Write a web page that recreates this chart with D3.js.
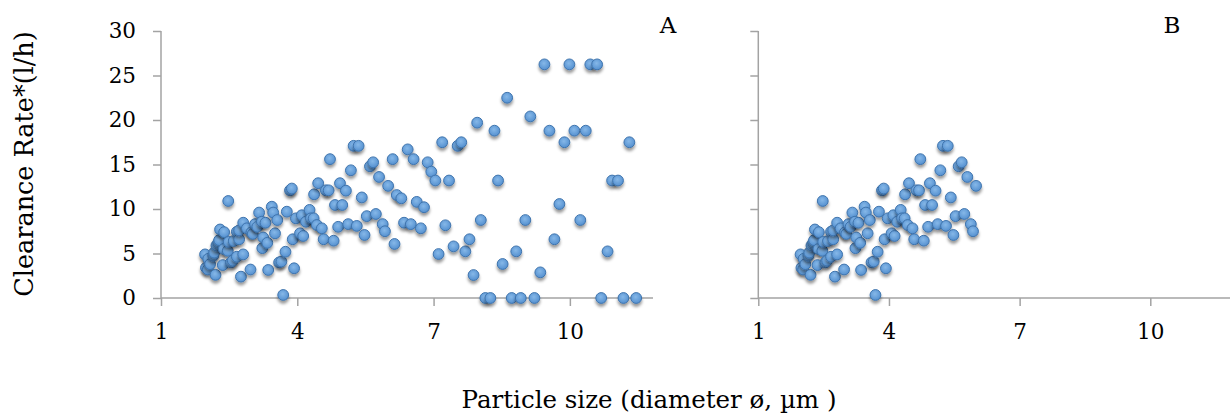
<!DOCTYPE html>
<html>
<head>
<meta charset="utf-8">
<script src="https://cdn.jsdelivr.net/npm/d3@7/dist/d3.min.js"></script>
<style>
  html, body { margin: 0; padding: 0; background: #fff; }
  svg { display: block; }
  text { font-family: "DejaVu Serif", "Liberation Serif", serif; fill: #000; }
</style>
</head>
<body>
<svg id="chart" width="1231" height="417"></svg>
<script>
// Particle size (µm) and clearance rate (l/h) for every measurement
const particleSize = [
  1.97, 1.99, 2.03, 2.04, 2.08, 2.15, 2.17, 2.20, 2.22, 2.26,
  2.28, 2.30, 2.36, 2.39, 2.38, 2.47, 2.49, 2.48, 2.54, 2.58,
  2.60, 2.67, 2.67, 2.72, 2.72, 2.76, 2.81, 2.81, 2.89, 2.97,
  2.99, 3.02, 3.07, 3.12, 3.16, 3.22, 3.23, 3.25, 3.30, 3.34,
  3.36, 3.44, 3.47, 3.51, 3.56, 3.60, 3.65, 3.69, 3.74, 3.77,
  3.90, 3.93, 3.97, 4.06, 4.10, 4.13, 4.19, 4.27, 4.30, 4.36,
  4.43, 4.54, 4.58, 4.80, 4.90, 5.12, 5.31, 5.48, 5.53, 5.73,
  5.88, 5.93, 6.14, 6.35, 6.50, 6.72,
  3.84, 3.88, 4.37, 4.46, 4.63, 4.69, 4.72, 4.94, 5.07, 4.83,
  4.99, 5.18, 5.24, 5.35, 5.42, 5.60, 5.67, 5.80, 6.00, 6.10,
  6.19, 6.29, 6.43, 6.56, 6.63, 6.79, 6.87, 6.95, 7.04, 7.34,
  7.19, 7.53, 7.61, 7.96, 8.34, 8.62, 9.13, 9.44, 9.99, 10.45,
  10.60, 9.55, 10.10, 10.35, 9.88, 11.31, 8.42, 10.93, 11.06, 9.77,
  7.26, 8.04, 9.02, 10.23, 7.11, 7.44, 7.70, 7.79, 7.88, 8.52,
  8.82, 9.35, 9.66, 10.83,
  8.14, 8.25, 8.72, 8.92, 9.22, 10.69, 11.18, 11.46
];
const clearanceRate = [
  4.9, 3.4, 3.2, 4.4, 3.8, 4.75, 5.1, 2.6, 5.9, 6.2,
  6.5, 7.7, 3.7, 7.4, 5.5, 5.3, 6.3, 10.9, 4.0, 4.2,
  6.4, 7.45, 4.64, 6.6, 7.6, 2.4, 4.9, 8.46, 7.83, 3.2,
  7.37, 7.2, 8.3, 8.0, 9.6, 8.57, 5.6, 6.8, 8.46, 6.2,
  3.15, 10.26, 9.6, 7.27, 8.76, 4.0, 4.1, 0.34, 5.2, 9.7,
  6.6, 3.34, 8.95, 7.27, 9.3, 6.97, 8.57, 9.9, 8.95, 8.95,
  8.2, 7.83, 6.6, 6.44, 8.0, 8.3, 8.1, 7.08, 9.2, 9.44,
  8.3, 7.5, 6.07, 8.46, 8.3, 7.83,
  12.1, 12.3, 11.65, 12.9, 12.1, 12.1, 15.6, 12.9, 12.06, 10.45,
  10.45, 14.35, 17.1, 17.1, 11.3, 14.8, 15.25, 13.6, 12.6, 15.6,
  11.57, 11.2, 16.7, 15.6, 10.8, 10.2, 15.25, 14.2, 13.2, 13.2,
  17.5, 17.1, 17.5, 19.7, 18.8, 22.5, 20.4, 26.25, 26.25, 26.25,
  26.25, 18.8, 18.8, 18.8, 17.5, 17.5, 13.2, 13.2, 13.2, 10.56,
  8.17, 8.76, 8.76, 8.76, 4.94, 5.8, 5.24, 6.6, 2.58, 3.82,
  5.24, 2.88, 6.6, 5.24,
  0, 0, 0, 0, 0, 0, 0, 0
];

// Panel B shows only the smaller particles
const panelBMaxSize = 6.05;

const xTicks = [1, 4, 7, 10];
const yTicks = [0, 5, 10, 15, 20, 25, 30];
const xDomain = [1, 11.83];
const yDomain = [0, 30];

const points = particleSize.map((s, i) => ({ size: s, rate: clearanceRate[i] }));
const panels = [
  { label: "A", left: 161, right: 653, labelX: 668, showYLabels: true, data: points },
  { label: "B", left: 758.3, right: 1230, labelX: 1172, showYLabels: false,
    data: points.filter(d => d.size <= panelBMaxSize) }
];
const plotTop = 31, plotBottom = 298;

const svg = d3.select("#chart");
const defs = svg.append("defs");

const grad = defs.append("radialGradient")
  .attr("id", "markerFill").attr("cx", "45%").attr("cy", "40%").attr("r", "60%");
grad.append("stop").attr("offset", "0%").attr("stop-color", "#86b8e8");
grad.append("stop").attr("offset", "100%").attr("stop-color", "#5490d0");

const shadow = defs.append("filter").attr("id", "markerShadow")
  .attr("x", "-50%").attr("y", "-50%").attr("width", "200%").attr("height", "220%");
shadow.append("feDropShadow")
  .attr("dx", 0).attr("dy", 3).attr("stdDeviation", 1.6)
  .attr("flood-color", "#000").attr("flood-opacity", 0.4);

const axisColor = "#a3a3a3";

panels.forEach(p => {
  const x = d3.scaleLinear().domain(xDomain).range([p.left, p.right]);
  const y = d3.scaleLinear().domain(yDomain).range([plotBottom, plotTop]);
  const g = svg.append("g");

  const yAxis = g.append("g")
    .attr("transform", `translate(${p.left},0)`)
    .call(d3.axisLeft(y).tickValues(yTicks).tickSize(8).tickPadding(17)
      .tickFormat(p.showYLabels ? d3.format("d") : () => ""));
  const xAxis = g.append("g")
    .attr("transform", `translate(0,${plotBottom})`)
    .call(d3.axisBottom(x).tickValues(xTicks).tickSize(8).tickPadding(18)
      .tickFormat(d3.format("d")));

  [xAxis, yAxis].forEach(a => {
    a.select(".domain").attr("stroke", axisColor).attr("stroke-width", 1.5);
    a.selectAll(".tick line").attr("stroke", axisColor).attr("stroke-width", 1.5);
    a.selectAll(".tick text")
      .style("font-family", '"DejaVu Serif", serif')
      .style("font-size", "21.5px").attr("fill", "#000");
  });
  // plain axis lines without end caps
  yAxis.select(".domain").attr("d", `M0,${plotTop}V${plotBottom}`);
  xAxis.select(".domain").attr("d", `M${p.left},0H${p.right}`);

  g.append("g")
    .selectAll("circle")
    .data(p.data)
    .join("circle")
    .attr("cx", d => x(d.size))
    .attr("cy", d => y(d.rate))
    .attr("r", 5.4)
    .attr("fill", "url(#markerFill)")
    .attr("stroke", "#3f74ad")
    .attr("stroke-width", 1)
    .attr("filter", "url(#markerShadow)");

  g.append("text")
    .attr("x", p.labelX)
    .attr("y", 33)
    .attr("text-anchor", "middle")
    .style("font-size", "23px")
    .text(p.label);
});

svg.append("text")
  .attr("transform", "translate(33,164) rotate(-90)")
  .attr("text-anchor", "middle")
  .style("font-size", "25.5px")
  .text("Clearance Rate*(l/h)");

svg.append("text")
  .attr("x", 649)
  .attr("y", 408)
  .attr("text-anchor", "middle")
  .style("font-size", "24.5px")
  .text("Particle size (diameter ø, µm )");
</script>
</body>
</html>
